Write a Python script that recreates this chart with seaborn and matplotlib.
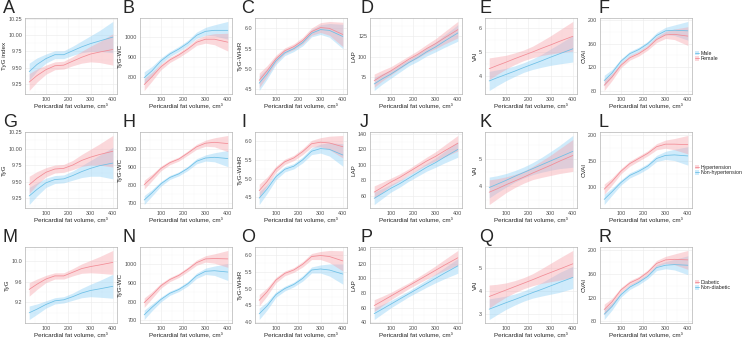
import matplotlib
matplotlib.use('Agg')
import matplotlib.pyplot as plt
import seaborn as sns
from matplotlib.patches import Patch
from matplotlib.lines import Line2D
from matplotlib.ticker import FormatStrFormatter, MultipleLocator

pfv = [25, 60, 100, 140, 180, 220, 260, 300, 340, 400]

# ---------- row 1 : male (blue) / female (pink) ----------
a_blue = [9.44, 9.55, 9.64, 9.70, 9.70, 9.76, 9.82, 9.87, 9.91, 9.97]
a_pink = [9.28, 9.38, 9.47, 9.53, 9.54, 9.60, 9.66, 9.71, 9.74, 9.78]
a_hw = [0.13, 0.10, 0.07, 0.06, 0.06, 0.07, 0.09, 0.12, 0.16, 0.24]

b_blue = [795, 830, 880, 915, 940, 970, 1010, 1030, 1035, 1035]
b_pink = [760, 800, 850, 885, 910, 940, 975, 990, 990, 975]
b_hw = [30, 22, 15, 13, 13, 14, 16, 20, 28, 45]

c_blue = [4.65, 4.88, 5.20, 5.40, 5.50, 5.65, 5.88, 5.97, 5.95, 5.80]
c_pink = [4.72, 4.95, 5.25, 5.45, 5.55, 5.70, 5.92, 6.02, 6.00, 5.85]
c_hw = [0.18, 0.13, 0.09, 0.07, 0.07, 0.08, 0.09, 0.12, 0.17, 0.30]

d_blue = [67, 73, 79, 86, 93, 99, 106, 112, 119, 129]
d_pink = [71, 77, 83, 90, 97, 103, 110, 116, 123, 133]
d_hw = [8, 6.5, 5, 4.5, 4, 4.5, 5, 6, 7.5, 10]

e_blue = [3.80, 3.93, 4.07, 4.21, 4.36, 4.50, 4.64, 4.79, 4.93, 5.14]
e_pink = [4.31, 4.44, 4.58, 4.73, 4.87, 5.01, 5.16, 5.30, 5.45, 5.66]
e_hw_blue = [0.40, 0.33, 0.26, 0.22, 0.20, 0.22, 0.27, 0.34, 0.42, 0.55]
e_hw_pink = [0.45, 0.37, 0.29, 0.24, 0.22, 0.24, 0.30, 0.38, 0.47, 0.62]

f_blue = [97, 110, 130, 143, 150, 160, 174, 182, 183, 182]
f_pink = [89, 103, 123, 136, 143, 153, 167, 175, 176, 173]
f_hw = [9, 6, 4, 4, 4, 4, 5, 6, 9, 16]

# ---------- row 2 : hypertension (pink) / non-hypertension (blue) ----------
g_pink = [9.45, 9.55, 9.64, 9.69, 9.70, 9.75, 9.82, 9.87, 9.91, 9.96]
g_blue = [9.28, 9.38, 9.48, 9.53, 9.54, 9.59, 9.65, 9.70, 9.74, 9.78]
g_hw = [0.13, 0.10, 0.07, 0.06, 0.06, 0.07, 0.09, 0.12, 0.16, 0.24]

h_pink = [800, 840, 890, 922, 942, 975, 1010, 1030, 1035, 1028]
h_blue = [715, 755, 805, 840, 860, 890, 930, 948, 952, 945]
h_hw = [25, 18, 13, 11, 11, 12, 14, 17, 25, 45]

i_pink = [4.68, 4.92, 5.25, 5.45, 5.55, 5.72, 5.93, 5.97, 5.95, 5.85]
i_blue = [4.48, 4.72, 5.05, 5.25, 5.33, 5.50, 5.73, 5.80, 5.78, 5.63]
i_hw = [0.17, 0.12, 0.08, 0.07, 0.07, 0.08, 0.09, 0.12, 0.18, 0.30]

j_pink = [65, 71, 78, 84, 91, 98, 105, 111, 118, 128]
j_blue = [57, 63, 70, 76, 83, 90, 97, 103, 110, 120]
j_hw = [8, 6.5, 5, 4.5, 4, 4.5, 5, 6, 7.5, 10]

k_pink = [3.78, 3.90, 4.05, 4.19, 4.33, 4.48, 4.62, 4.76, 4.91, 5.12]
k_blue = [3.95, 4.07, 4.21, 4.36, 4.50, 4.64, 4.78, 4.92, 5.06, 5.27]
k_hw_pink = [0.45, 0.37, 0.29, 0.24, 0.22, 0.24, 0.30, 0.37, 0.45, 0.58]
k_hw_blue = [0.38, 0.31, 0.25, 0.21, 0.20, 0.22, 0.27, 0.34, 0.42, 0.58]

l_pink = [95, 110, 130, 145, 155, 165, 178, 183, 183, 182]
l_blue = [75, 90, 108, 122, 130, 140, 155, 161, 162, 160]
l_hw = [10, 7, 5, 5, 5, 5, 6, 8, 11, 18]

# ---------- row 3 : diabetic (pink) / non-diabetic (blue) ----------
m_pink = [9.45, 9.55, 9.65, 9.71, 9.71, 9.78, 9.85, 9.89, 9.92, 9.97]
m_blue = [9.00, 9.07, 9.16, 9.23, 9.25, 9.31, 9.38, 9.43, 9.46, 9.51]
m_hw = [0.13, 0.10, 0.07, 0.06, 0.06, 0.07, 0.09, 0.12, 0.16, 0.23]

n_pink = [795, 835, 885, 918, 940, 972, 1008, 1028, 1030, 1028]
n_blue = [730, 770, 812, 845, 865, 895, 938, 962, 965, 958]
n_hw = [25, 18, 13, 11, 11, 12, 14, 17, 25, 45]

o_pink = [4.65, 4.90, 5.25, 5.45, 5.55, 5.72, 5.95, 5.98, 5.95, 5.82]
o_blue = [4.25, 4.48, 4.82, 5.00, 5.12, 5.30, 5.55, 5.58, 5.55, 5.43]
o_hw = [0.17, 0.12, 0.08, 0.07, 0.07, 0.08, 0.09, 0.12, 0.18, 0.30]

p_pink = [63, 69, 76, 83, 90, 97, 104, 111, 118, 128]
p_blue = [52, 58, 65, 72, 79, 86, 93, 100, 107, 117]
p_hw = [8, 6.5, 5, 4.5, 4, 4.5, 5, 6, 7.5, 10]

q_pink = [3.75, 3.88, 4.03, 4.18, 4.33, 4.48, 4.64, 4.79, 4.94, 5.17]
q_blue = [3.20, 3.33, 3.48, 3.62, 3.77, 3.92, 4.06, 4.21, 4.36, 4.58]
q_hw_pink = [0.50, 0.40, 0.31, 0.26, 0.24, 0.26, 0.32, 0.40, 0.48, 0.58]
q_hw_blue = [0.45, 0.37, 0.29, 0.24, 0.22, 0.24, 0.29, 0.36, 0.43, 0.48]

r_pink = [100, 113, 133, 145, 152, 163, 178, 184, 185, 184]
r_blue = [92, 105, 125, 138, 146, 156, 171, 175, 176, 175]
r_hw = [9, 6, 4, 4, 4, 4, 5, 6, 9, 16]

# panel letter, y label, pink mean, pink half-width, blue mean, blue half-width, y ticks, tick format
panels = [
    ('A', 'TyG index', a_pink, a_hw, a_blue, a_hw, [9.25, 9.5, 9.75, 10.0, 10.25], '%.2f'),
    ('B', 'TyG-WC', b_pink, b_hw, b_blue, b_hw, [800, 900, 1000], '%d'),
    ('C', 'TyG-WHtR', c_pink, c_hw, c_blue, c_hw, [4.5, 5.0, 5.5, 6.0], '%.1f'),
    ('D', 'LAP', d_pink, d_hw, d_blue, d_hw, [75, 100, 125], '%d'),
    ('E', 'VAI', e_pink, e_hw_pink, e_blue, e_hw_blue, [4, 5, 6], '%d'),
    ('F', 'CVAI', f_pink, f_hw, f_blue, f_hw, [80, 120, 160, 200], '%d'),
    ('G', 'TyG', g_pink, g_hw, g_blue, g_hw, [9.25, 9.5, 9.75, 10.0, 10.25], '%.2f'),
    ('H', 'TyG-WC', h_pink, h_hw, h_blue, h_hw, [700, 800, 900, 1000, 1100], '%d'),
    ('I', 'TyG-WHtR', i_pink, i_hw, i_blue, i_hw, [4.5, 5.0, 5.5, 6.0], '%.1f'),
    ('J', 'LAP', j_pink, j_hw, j_blue, j_hw, [60, 80, 100, 120, 140], '%d'),
    ('K', 'VAI', k_pink, k_hw_pink, k_blue, k_hw_blue, [4, 5, 6], '%d'),
    ('L', 'CVAI', l_pink, l_hw, l_blue, l_hw, [100, 150, 200], '%d'),
    ('M', 'TyG', m_pink, m_hw, m_blue, m_hw, [9.2, 9.6, 10.0], '%.1f'),
    ('N', 'TyG-WC', n_pink, n_hw, n_blue, n_hw, [700, 800, 900, 1000], '%d'),
    ('O', 'TyG-WHtR', o_pink, o_hw, o_blue, o_hw, [4.0, 4.5, 5.0, 5.5, 6.0], '%.1f'),
    ('P', 'LAP', p_pink, p_hw, p_blue, p_hw, [40, 60, 80, 100, 120, 140], '%d'),
    ('Q', 'VAI', q_pink, q_hw_pink, q_blue, q_hw_blue, [3, 4, 5], '%d'),
    ('R', 'CVAI', r_pink, r_hw, r_blue, r_hw, [80, 120, 160, 200], '%d'),
]

legends = [
    [('Male', 'blue'), ('Female', 'pink')],
    [('Hypertension', 'pink'), ('Non-hypertension', 'blue')],
    [('Diabetic', 'pink'), ('Non-diabetic', 'blue')],
]

line_col = {'pink': '#f28b95', 'blue': '#6cbfe6'}
fill_col = {'pink': '#f7a3ab', 'blue': '#8dd0f7'}
fill_alpha = 0.42

sns.set_style('white')
plt.rcParams['font.family'] = ['Liberation Sans', 'DejaVu Sans']

W, H = 743, 350
fig = plt.figure(figsize=(W / 100, H / 100), dpi=100)

col_left = 25
col_step = 115
ax_w = 92
row_top = [18, 132, 247]
ax_h = 76

for idx, (letter, ylab, pm, phw, bm, bhw, yt, fmt) in enumerate(panels):
    r, c = divmod(idx, 6)
    x0 = col_left + c * col_step
    y0 = H - row_top[r] - ax_h
    ax = fig.add_axes([x0 / W, y0 / H, ax_w / W, ax_h / H])

    for key, mean, hw in (('blue', bm, bhw), ('pink', pm, phw)):
        lo = [m - h for m, h in zip(mean, hw)]
        hi = [m + h for m, h in zip(mean, hw)]
        ax.fill_between(pfv, lo, hi, color=fill_col[key], alpha=fill_alpha, lw=0)
    for key, mean in (('blue', bm), ('pink', pm)):
        sns.lineplot(x=pfv, y=mean, color=line_col[key], lw=0.55, ax=ax)

    ax.margins(x=0.05, y=0.05)
    ax.set_xlim(6.25, 418.75)
    lims = ax.get_ylim()
    ax.set_xticks([100, 200, 300, 400])
    ax.set_yticks(yt)
    ax.set_ylim(lims)
    ax.yaxis.set_major_formatter(FormatStrFormatter(fmt))
    ax.xaxis.set_minor_locator(MultipleLocator(50))
    ax.yaxis.set_minor_locator(MultipleLocator((yt[1] - yt[0]) / 2))

    ax.grid(which='major', color='#ebebeb', lw=0.4)
    ax.grid(which='minor', color='#f5f5f5', lw=0.25)
    ax.set_axisbelow(True)
    for s in ax.spines.values():
        s.set_color('#b3b3b3')
        s.set_linewidth(0.5)
    ax.tick_params(which='major', length=1.3, width=0.4, color='#b3b3b3',
                   labelsize=3.9, pad=0.8, labelcolor='#4d4d4d')
    ax.tick_params(which='minor', length=0)

    ax.set_xlabel('Pericardial fat volume, cm\u00b3', fontsize=4.5, labelpad=1.5)
    ax.set_ylabel(ylab, fontsize=4.5, labelpad=1.0)

    fig.text((3 + c * 119) / W, (H - row_top[r] + 1) / H, letter,
             fontsize=13, va='bottom', ha='left')

    if c == 5:
        items = legends[r]
        handles = [(Patch(facecolor=fill_col[k], alpha=fill_alpha, lw=0),
                    Line2D([0], [0], color=line_col[k], lw=0.6)) for _, k in items]
        ax.legend(handles, [t for t, _ in items], loc='center left',
                  bbox_to_anchor=(1.0, 0.5), frameon=False, fontsize=3.8,
                  handlelength=0.8, handleheight=0.9, labelspacing=0.15,
                  handletextpad=0.3, borderaxespad=0.2)

fig.savefig('out.png', dpi=100, facecolor='white')
